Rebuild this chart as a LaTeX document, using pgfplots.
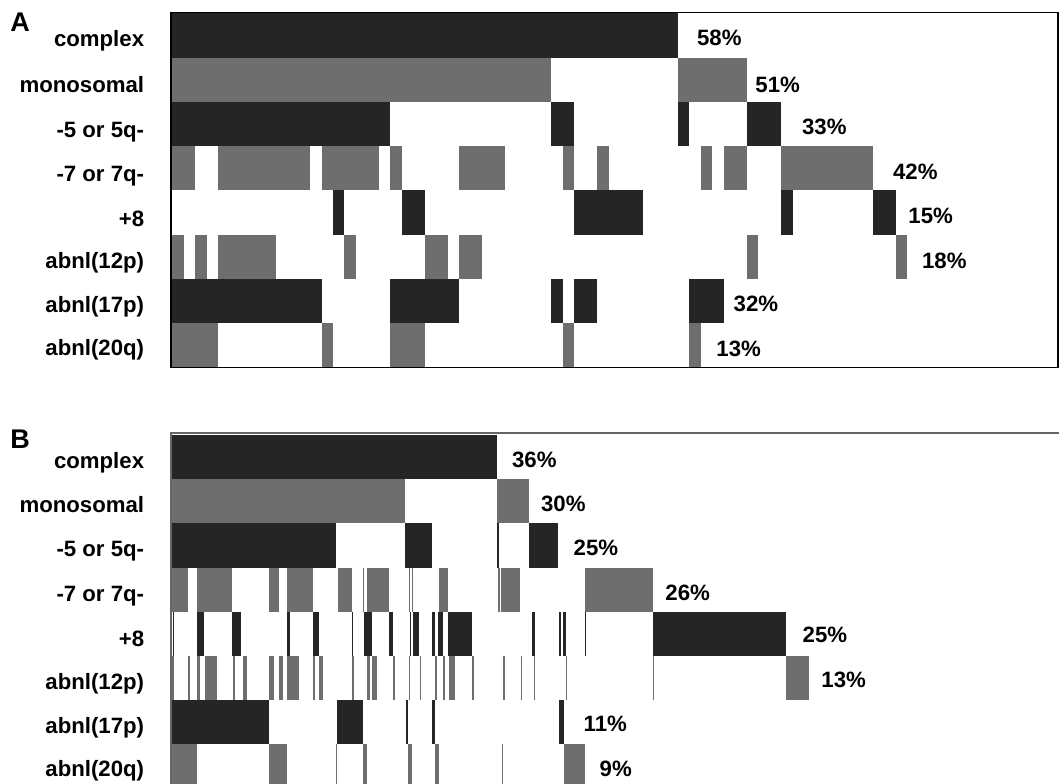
\documentclass[border=0pt]{standalone}
\usepackage{fontspec}
\setmainfont{Liberation Sans}
\usepackage{pgfplots}
\pgfplotsset{compat=1.18}
\definecolor{dk}{HTML}{252525}
\definecolor{gy}{HTML}{6E6E6E}
\newcommand\lab{\bfseries\fontsize{11.1}{13}\selectfont}
\begin{document}
\begin{tikzpicture}
\path[use as bounding box] (0,0) rectangle (529.5pt,391.5pt);
% ---------------- Panel A ----------------
\begin{axis}[at={(85.5pt,207.8pt)}, anchor=south west, scale only axis,
  width=443.5pt, height=177.45pt, xmin=-0.1, xmax=77.1, ymin=-0.02, ymax=8,
  y dir=reverse, ticks=none, axis on top,
  axis line style={black,line width=0.8pt}, unbounded coords=jump,
  every axis plot/.append style={line width=22.125pt, line cap=butt}]
% complex
\addplot[dk] coordinates {(0,0.5)(44,0.5)};
% monosomal
\addplot[gy] coordinates {(0,1.5)(33,1.5)(nan,nan)(44,1.5)(50,1.5)};
% -5 or 5q-
\addplot[dk] coordinates {(0,2.5)(19,2.5)(nan,nan)(33,2.5)(35,2.5)(nan,nan)(44,2.5)(45,2.5)(nan,nan)(50,2.5)(53,2.5)};
% -7 or 7q-
\addplot[gy] coordinates {(0,3.5)(2,3.5)(nan,nan)(4,3.5)(12,3.5)(nan,nan)(13,3.5)(18,3.5)(nan,nan)(19,3.5)(20,3.5)(nan,nan)(25,3.5)(29,3.5)(nan,nan)(34,3.5)(35,3.5)(nan,nan)(37,3.5)(38,3.5)(nan,nan)(46,3.5)(47,3.5)(nan,nan)(48,3.5)(50,3.5)(nan,nan)(53,3.5)(61,3.5)};
% +8
\addplot[dk] coordinates {(14,4.5)(15,4.5)(nan,nan)(20,4.5)(22,4.5)(nan,nan)(35,4.5)(41,4.5)(nan,nan)(53,4.5)(54,4.5)(nan,nan)(61,4.5)(63,4.5)};
% abnl(12p)
\addplot[gy] coordinates {(0,5.5)(1,5.5)(nan,nan)(2,5.5)(3,5.5)(nan,nan)(4,5.5)(9,5.5)(nan,nan)(15,5.5)(16,5.5)(nan,nan)(22,5.5)(24,5.5)(nan,nan)(25,5.5)(27,5.5)(nan,nan)(50,5.5)(51,5.5)(nan,nan)(63,5.5)(64,5.5)};
% abnl(17p)
\addplot[dk] coordinates {(0,6.5)(13,6.5)(nan,nan)(19,6.5)(25,6.5)(nan,nan)(33,6.5)(34,6.5)(nan,nan)(35,6.5)(37,6.5)(nan,nan)(45,6.5)(48,6.5)};
% abnl(20q)
\addplot[gy] coordinates {(0,7.5)(4,7.5)(nan,nan)(13,7.5)(14,7.5)(nan,nan)(19,7.5)(22,7.5)(nan,nan)(34,7.5)(35,7.5)(nan,nan)(45,7.5)(46,7.5)};
\end{axis}
% ---------------- Panel B ----------------
\begin{axis}[at={(85.5pt,-9.5pt)}, anchor=south west, scale only axis,
  width=450.5pt, height=184.5pt, xmin=-1, xmax=900, ymin=-0.04, ymax=8.3,
  y dir=reverse, ticks=none, axis on top,
  axis line style={black!60,line width=0.8pt}, unbounded coords=jump,
  every axis plot/.append style={line width=22.125pt, line cap=butt}]
% complex
\addplot[dk] coordinates {(0,0.5)(325.3,0.5)};
% monosomal
\addplot[gy] coordinates {(0,1.5)(233,1.5)(nan,nan)(325.3,1.5)(357,1.5)};
% -5 or 5q-
\addplot[dk] coordinates {(0,2.5)(164,2.5)(nan,nan)(233,2.5)(260,2.5)(nan,nan)(325.3,2.5)(327,2.5)(nan,nan)(357,2.5)(386.3,2.5)};
% -7 or 7q-
\addplot[gy] coordinates {(0,3.5)(15.7,3.5)(nan,nan)(25.3,3.5)(59.7,3.5)(nan,nan)(97,3.5)(107.3,3.5)(nan,nan)(115.3,3.5)(141.3,3.5)(nan,nan)(165.5,3.5)(179.7,3.5)(nan,nan)(190.7,3.5)(191.7,3.5)(nan,nan)(195.3,3.5)(217,3.5)(nan,nan)(237,3.5)(238,3.5)(nan,nan)(239.7,3.5)(240.7,3.5)(nan,nan)(267.2,3.5)(276.3,3.5)(nan,nan)(326.3,3.5)(327.5,3.5)(nan,nan)(329.3,3.5)(348,3.5)(nan,nan)(413,3.5)(481.3,3.5)};
% +8
\addplot[dk] coordinates {(0.5,4.5)(1.5,4.5)(nan,nan)(25.3,4.5)(32.3,4.5)(nan,nan)(60,4.5)(69.3,4.5)(nan,nan)(115.3,4.5)(118,4.5)(nan,nan)(141.3,4.5)(147,4.5)(nan,nan)(180,4.5)(181,4.5)(nan,nan)(191.5,4.5)(199.7,4.5)(nan,nan)(217,4.5)(220.7,4.5)(nan,nan)(237.5,4.5)(238.5,4.5)(nan,nan)(241.3,4.5)(247.3,4.5)(nan,nan)(259.7,4.5)(263,4.5)(nan,nan)(266.3,4.5)(270.7,4.5)(nan,nan)(276.3,4.5)(299.7,4.5)(nan,nan)(360,4.5)(363,4.5)(nan,nan)(387,4.5)(388.5,4.5)(nan,nan)(390.5,4.5)(394,4.5)(nan,nan)(412.5,4.5)(413.5,4.5)(nan,nan)(481.3,4.5)(613.7,4.5)};
% abnl(12p)
\addplot[gy] coordinates {(0,5.5)(2,5.5)(nan,nan)(16,5.5)(18,5.5)(nan,nan)(25.3,5.5)(28,5.5)(nan,nan)(32.5,5.5)(44.5,5.5)(nan,nan)(60.5,5.5)(63,5.5)(nan,nan)(70.5,5.5)(74.5,5.5)(nan,nan)(97.3,5.5)(102.3,5.5)(nan,nan)(107.3,5.5)(111.3,5.5)(nan,nan)(115,5.5)(127.3,5.5)(nan,nan)(141.3,5.5)(143,5.5)(nan,nan)(147.3,5.5)(151.3,5.5)(nan,nan)(180,5.5)(182,5.5)(nan,nan)(195,5.5)(198,5.5)(nan,nan)(199.7,5.5)(204.5,5.5)(nan,nan)(221,5.5)(223,5.5)(nan,nan)(236.5,5.5)(238,5.5)(nan,nan)(247.5,5.5)(248.5,5.5)(nan,nan)(263,5.5)(264.7,5.5)(nan,nan)(270.7,5.5)(272.5,5.5)(nan,nan)(276.7,5.5)(282.5,5.5)(nan,nan)(299.7,5.5)(301.5,5.5)(nan,nan)(331.3,5.5)(333,5.5)(nan,nan)(348.5,5.5)(349.7,5.5)(nan,nan)(361.5,5.5)(362.5,5.5)(nan,nan)(393.5,5.5)(394.5,5.5)(nan,nan)(481,5.5)(482,5.5)(nan,nan)(613.7,5.5)(637,5.5)};
% abnl(17p)
\addplot[dk] coordinates {(0,6.5)(97.3,6.5)(nan,nan)(164.7,6.5)(191.3,6.5)(nan,nan)(233.7,6.5)(236.3,6.5)(nan,nan)(259.7,6.5)(263,6.5)(nan,nan)(387,6.5)(392.3,6.5)};
% abnl(20q)
\addplot[gy] coordinates {(0,7.5)(25.3,7.5)(nan,nan)(97.3,7.5)(115.3,7.5)(nan,nan)(163.5,7.5)(164.7,7.5)(nan,nan)(190.7,7.5)(195.3,7.5)(nan,nan)(236.3,7.5)(240.3,7.5)(nan,nan)(263,7.5)(267.3,7.5)(nan,nan)(330,7.5)(331,7.5)(nan,nan)(392.3,7.5)(413,7.5)};
\end{axis}
% ---------------- Texts (pixel grid of the reference) ----------------
\begin{scope}[x=0.5pt,y=-0.5pt,shift={(0pt,391.5pt)},every node/.style={inner sep=0pt,font=\lab}]
\node[anchor=base west,font=\bfseries\fontsize{13.5}{15}\selectfont] at (10,31.7) {A};
\node[anchor=base west,font=\bfseries\fontsize{13.5}{15}\selectfont] at (10,448.3) {B};
% row labels A
\node[anchor=base east] at (144.5,47) {complex};
\node[anchor=base east] at (144.5,92.5) {monosomal};
\node[anchor=base east] at (144.5,137.5) {-5 or 5q-};
\node[anchor=base east] at (144.5,181.5) {-7 or 7q-};
\node[anchor=base east] at (144.5,227) {+8};
\node[anchor=base east] at (144.5,268.5) {abnl(12p)};
\node[anchor=base east] at (144.5,312.5) {abnl(17p)};
\node[anchor=base east] at (144.5,355.5) {abnl(20q)};
% row labels B
\node[anchor=base east] at (144.5,468) {complex};
\node[anchor=base east] at (144.5,512.5) {monosomal};
\node[anchor=base east] at (144.5,556.5) {-5 or 5q-};
\node[anchor=base east] at (144.5,601) {-7 or 7q-};
\node[anchor=base east] at (144.5,646.5) {+8};
\node[anchor=base east] at (144.5,689.3) {abnl(12p)};
\node[anchor=base east] at (144.5,733.3) {abnl(17p)};
\node[anchor=base east] at (144.5,776.7) {abnl(20q)};
% percentages A
\node[anchor=base west] at (696.7,46) {58\%};
\node[anchor=base west] at (755,92.7) {51\%};
\node[anchor=base west] at (801.7,135) {33\%};
\node[anchor=base west] at (892.7,180) {42\%};
\node[anchor=base west] at (908,223.3) {15\%};
\node[anchor=base west] at (921.7,268.3) {18\%};
\node[anchor=base west] at (733.3,311.7) {32\%};
\node[anchor=base west] at (716,356) {13\%};
% percentages B
\node[anchor=base west] at (511.7,467.5) {36\%};
\node[anchor=base west] at (540.7,511.7) {30\%};
\node[anchor=base west] at (573.3,555.5) {25\%};
\node[anchor=base west] at (665,600) {26\%};
\node[anchor=base west] at (802.3,642) {25\%};
\node[anchor=base west] at (821,687) {13\%};
\node[anchor=base west] at (583.3,731) {11\%};
\node[anchor=base west] at (599.3,776) {9\%};
\end{scope}
\end{tikzpicture}
\end{document}
